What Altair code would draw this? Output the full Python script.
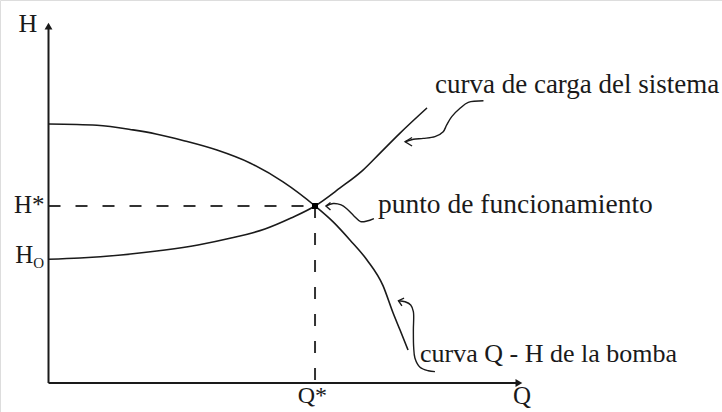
import altair as alt
import pandas as pd

# Pump characteristic curve (Q-H), arbitrary units with Q* = 100, H* = 100
pump_q = [0, 18.2, 31.7, 40.3, 50.8, 63.2, 75.6, 88.0, 100, 106.8, 113.1, 119.5, 125.5, 129.3, 131.9, 134.9]
pump_h = [146.3, 145.6, 143.0, 140.7, 136.9, 131.6, 124.3, 113.6, 100, 91.0, 80.8, 69.5, 55.0, 39.5, 29.9, 18.6]

# System load curve, starting at the static head H0
sys_q = [0, 11.8, 27.2, 43.7, 56.1, 68.5, 81.2, 91.0, 100, 109.4, 118.0, 124.4, 131.9, 142.0]
sys_h = [69.9, 70.6, 72.3, 75.1, 78.0, 81.9, 87.0, 93.2, 100, 110.2, 120.3, 129.9, 141.2, 155.4]

# Operating point and static head
q_star, h_star, h_zero = 100, 100, 69.9

# Axis extents
q_axis_end, h_axis_end = 175.8, 200.6

# Hand-drawn leader lines from the labels to the curves
lead_sys_q = [163.2, 157.5, 154.4, 151.3, 149.4, 148.1, 145.0, 140.6, 136.9, 133.8]
lead_sys_h = [159.5, 158.6, 155.2, 150.5, 145.8, 142.0, 139.2, 138.2, 137.7, 136.3]
head_sys_q = [136.4, 133.8, 136.4]
head_sys_h = [138.7, 136.3, 133.9]

lead_pt_q = [122.1, 119.5, 117.1, 114.6, 112.0, 109.8, 106.8, 104.1]
lead_pt_h = [92.9, 91.5, 91.2, 94.4, 98.3, 100.6, 101.4, 100.0]
head_pt_q = [105.8, 104.1, 105.8]
head_pt_h = [102.0, 100.0, 97.7]

lead_pump_q = [145.0, 142.5, 139.4, 137.5, 137.0, 136.9, 136.9, 135.9, 133.8, 131.3]
lead_pump_h = [6.4, 6.9, 8.9, 14.0, 20.5, 29.9, 40.3, 44.1, 45.9, 46.5]
head_pump_q = [133.4, 131.3, 132.6]
head_pump_h = [48.0, 46.5, 43.5]

# Labels: text, q, h, size, align
label_text = ["curva de carga del sistema", "punto de funcionamiento", "curva Q - H de la bomba",
              "H", "H*", "H", "Q*", "Q"]
label_q = [145.0, 123.6, 139.4, -7.7, -1.5, -5.7, 99.0, 174.3]
label_h = [163.8, 96.0, 11.9, 198.3, 96.0, 67.7, -11.3, -11.9]
label_size = [27, 27.5, 26, 26, 25, 25, 24, 25]
label_align = ["left", "left", "left", "center", "right", "right", "center", "left"]

W, H = 722, 412
FONT = "Liberation Serif"
INK = "#1a1a1a"

x_sc = alt.Scale(domain=[-18.2, 252.7], nice=False, zero=False)
y_sc = alt.Scale(domain=[-16.4, 216.4], nice=False, zero=False)
X = lambda f: alt.X(f, type="quantitative", scale=x_sc, axis=None)
Y = lambda f: alt.Y(f, type="quantitative", scale=y_sc, axis=None)


def path_df(q, h, name):
    return pd.DataFrame({"q": q, "h": h, "i": range(len(q)), "name": name})


curves = pd.concat([path_df(pump_q, pump_h, "pump"), path_df(sys_q, sys_h, "system")])
leads = pd.concat([path_df(lead_sys_q, lead_sys_h, "a"),
                   path_df(lead_pt_q, lead_pt_h, "b"),
                   path_df(lead_pump_q, lead_pump_h, "c")])
heads = pd.concat([path_df(head_sys_q, head_sys_h, "a"),
                   path_df(head_pt_q, head_pt_h, "b"),
                   path_df(head_pump_q, head_pump_h, "c")])
labels = pd.DataFrame({"t": label_text, "q": label_q, "h": label_h,
                       "s": label_size, "a": label_align})
axes = pd.DataFrame({"q": [0], "q2": [q_axis_end], "h": [0], "h2": [h_axis_end]})
op = pd.DataFrame({"q": [q_star], "h": [h_star], "z": [0]})

curve_layer = alt.Chart(curves).mark_line(
    color=INK, strokeWidth=1.6, interpolate="monotone"
).encode(x=X("q"), y=Y("h"), detail="name:N", order="i:Q")

lead_layer = alt.Chart(leads).mark_line(
    color=INK, strokeWidth=1.4, interpolate="catmull-rom"
).encode(x=X("q"), y=Y("h"), detail="name:N", order="i:Q")

head_layer = alt.Chart(heads).mark_line(
    color=INK, strokeWidth=1.4
).encode(x=X("q"), y=Y("h"), detail="name:N", order="i:Q")

x_axis = alt.Chart(axes).mark_rule(color=INK, strokeWidth=2).encode(
    x=X("q"), x2="q2", y=Y("h"))
y_axis = alt.Chart(axes).mark_rule(color=INK, strokeWidth=2).encode(
    x=X("q"), y=Y("h"), y2="h2")

x_tip = alt.Chart(axes).mark_point(
    shape="M1,0L-0.3,-0.75L-0.3,0.75Z", filled=True, opacity=1, color=INK, size=110
).encode(x=X("q2"), y=Y("h"))
y_tip = alt.Chart(axes).mark_point(
    shape="M0,-1L0.75,0.3L-0.75,0.3Z", filled=True, opacity=1, color=INK, size=110
).encode(x=X("q"), y=Y("h2"))

h_dash = alt.Chart(op).mark_rule(color="#333", strokeWidth=2, strokeDash=[12, 15]).encode(
    x=X("z"), x2="q", y=Y("h"))
q_dash = alt.Chart(op).mark_rule(color="#333", strokeWidth=2, strokeDash=[12, 15]).encode(
    x=X("q"), y=Y("h"), y2="z")

op_point = alt.Chart(op).mark_square(color="black", size=36, opacity=1).encode(
    x=X("q"), y=Y("h"))

text_layers = []
for align in ["left", "center", "right"]:
    sub = labels[labels["a"] == align]
    text_layers.append(
        alt.Chart(sub).mark_text(font=FONT, color=INK, align=align, baseline="alphabetic").encode(
            x=X("q"), y=Y("h"), text="t:N",
            size=alt.Size("s:Q", scale=None, legend=None))
    )

sub_o = alt.Chart(pd.DataFrame({"q": [-5.7], "h": [h_zero - 4.8], "t": ["O"]})).mark_text(
    font=FONT, color=INK, align="left", baseline="alphabetic", fontSize=15
).encode(x=X("q"), y=Y("h"), text="t:N")

chart = alt.layer(
    h_dash, q_dash, x_axis, y_axis, x_tip, y_tip,
    curve_layer, lead_layer, head_layer, op_point, *text_layers, sub_o
).properties(
    width=W, height=H, padding=0, autosize=alt.AutoSizeParams(type="none")
).configure_view(stroke=None).configure(background="white")

chart.save("out.html", embed_options={"renderer": "svg", "actions": False})
